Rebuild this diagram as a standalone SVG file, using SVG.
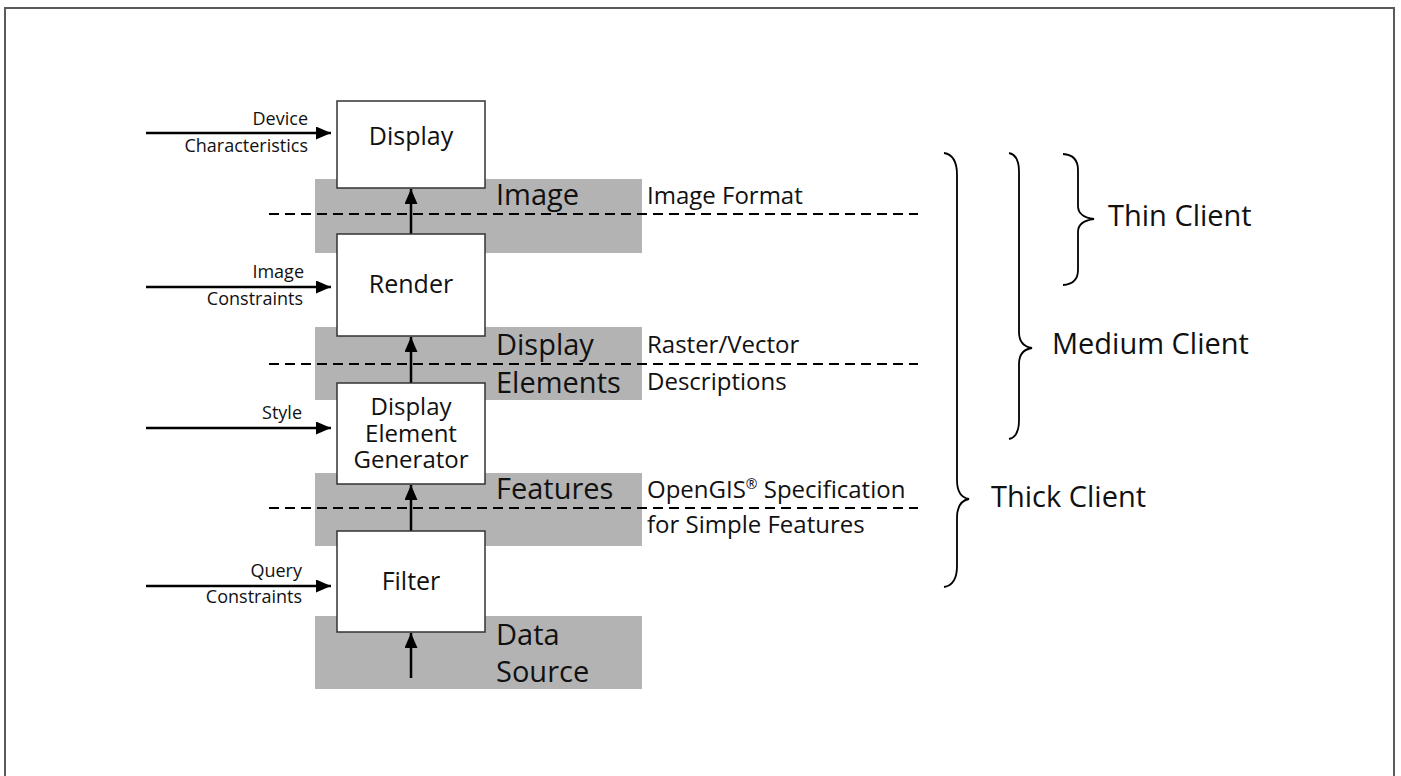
<svg xmlns="http://www.w3.org/2000/svg" width="1401" height="776" viewBox="0 0 1401 776">
  <style>
    text { font-family: "Open Sans", "Liberation Sans", sans-serif; fill: #111; }
    .box { fill: #fff; stroke: #333; stroke-width: 1.5; }
    .band { fill: #b3b3b3; }
    .boxlabel { font-size: 25px; text-anchor: middle; }
    .stack { font-size: 24px; }
    .bandlabel { font-size: 29px; }
    .note { font-size: 24px; }
    .sup { font-size: 14px; }
    .input { font-size: 18px; text-anchor: end; }
    .client { font-size: 29px; }
    .flow { stroke: #000; stroke-width: 2.5; fill: none; marker-end: url(#head); }
    .divider { stroke: #000; stroke-width: 2; stroke-dasharray: 10 6; fill: none; }
    .brace { stroke: #000; stroke-width: 1.8; fill: none; }
  </style>
  <defs>
    <marker id="head" markerUnits="userSpaceOnUse" markerWidth="15" markerHeight="13" refX="15" refY="6.5" orient="auto">
      <path d="M0,0 L15,6.5 L0,13 z" fill="#000"/>
    </marker>
  </defs>

  <!-- outer frame -->
  <rect x="5" y="8" width="1389" height="800" fill="none" stroke="#5a5a5a" stroke-width="2"/>

  <!-- data bands between stages -->
  <g id="bands">
    <rect class="band" x="315" y="179" width="327" height="74"/>
    <rect class="band" x="315" y="327" width="327" height="73"/>
    <rect class="band" x="315" y="473" width="327" height="73"/>
    <rect class="band" x="315" y="616" width="327" height="73"/>
  </g>

  <!-- dashed interface lines -->
  <g id="dividers">
    <line class="divider" x1="269" y1="214" x2="918" y2="214"/>
    <line class="divider" x1="269" y1="364" x2="918" y2="364"/>
    <line class="divider" x1="269" y1="508" x2="918" y2="508"/>
  </g>

  <!-- band labels -->
  <g id="band-labels">
    <text class="bandlabel" x="496" y="205">Image</text>
    <text class="bandlabel" x="496" y="355">Display</text>
    <text class="bandlabel" x="496" y="393">Elements</text>
    <text class="bandlabel" x="496" y="499">Features</text>
    <text class="bandlabel" x="496" y="645">Data</text>
    <text class="bandlabel" x="496" y="682">Source</text>
  </g>

  <!-- interface notes -->
  <g id="notes">
    <text class="note" x="647" y="204">Image Format</text>
    <text class="note" x="647" y="353">Raster/Vector</text>
    <text class="note" x="647" y="390">Descriptions</text>
    <text class="note" x="647" y="498">OpenGIS<tspan class="sup" dy="-9">®</tspan><tspan dy="9"> Specification</tspan></text>
    <text class="note" x="647" y="533">for Simple Features</text>
  </g>

  <!-- connectors -->
  <g id="connectors">
    <line class="flow" x1="146" y1="133" x2="331" y2="133"/>
    <line class="flow" x1="146" y1="287" x2="331" y2="287"/>
    <line class="flow" x1="146" y1="428" x2="331" y2="428"/>
    <line class="flow" x1="146" y1="586" x2="331" y2="586"/>
    <line class="flow" x1="411" y1="234" x2="411" y2="189"/>
    <line class="flow" x1="411" y1="383" x2="411" y2="337"/>
    <line class="flow" x1="411" y1="531" x2="411" y2="485"/>
    <line class="flow" x1="411" y1="678" x2="411" y2="633"/>
  </g>

  <!-- input labels -->
  <g id="inputs">
    <text class="input" x="308" y="125">Device</text>
    <text class="input" x="308" y="152">Characteristics</text>
    <text class="input" x="304" y="278">Image</text>
    <text class="input" x="303" y="305">Constraints</text>
    <text class="input" x="302" y="419">Style</text>
    <text class="input" x="302" y="577">Query</text>
    <text class="input" x="302" y="603">Constraints</text>
  </g>

  <!-- processing stages -->
  <g id="display">
    <rect class="box" x="337" y="101" width="148" height="87"/>
    <text class="boxlabel" x="411" y="145">Display</text>
  </g>
  <g id="render">
    <rect class="box" x="337" y="234" width="148" height="102"/>
    <text class="boxlabel" x="411" y="293">Render</text>
  </g>
  <g id="display-element-generator">
    <rect class="box" x="337" y="383" width="148" height="101"/>
    <text class="boxlabel stack" x="411" y="415">Display</text>
    <text class="boxlabel stack" x="411" y="442">Element</text>
    <text class="boxlabel stack" x="411" y="468">Generator</text>
  </g>
  <g id="filter">
    <rect class="box" x="337" y="531" width="148" height="101"/>
    <text class="boxlabel" x="411" y="590">Filter</text>
  </g>

  <!-- client scopes -->
  <g id="thick-client">
    <path class="brace" d="M944,153 Q957,155 957,175 L957,480 Q957,497 969,499 Q957,501 957,518 L957,566 Q957,585 944,587"/>
    <text class="client" x="991" y="507">Thick Client</text>
  </g>
  <g id="medium-client">
    <path class="brace" d="M1009,153 Q1019,155 1019,172 L1019,332 Q1019,346 1032,348 Q1019,350 1019,364 L1019,420 Q1019,437 1009,439"/>
    <text class="client" x="1052" y="354">Medium Client</text>
  </g>
  <g id="thin-client">
    <path class="brace" d="M1063,154 Q1078,155 1078,170 L1078,206 Q1078,217 1094,219 Q1078,221 1078,232 L1078,270 Q1078,284 1063,285"/>
    <text class="client" x="1108" y="226">Thin Client</text>
  </g>
</svg>
